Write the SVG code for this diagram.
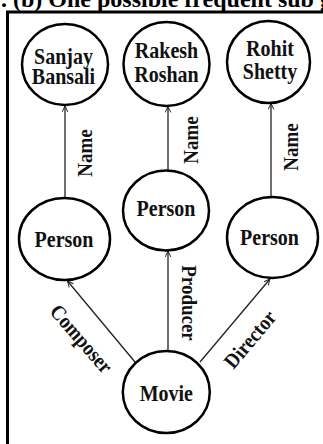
<svg xmlns="http://www.w3.org/2000/svg" width="323" height="444" viewBox="0 0 323 444">
  <style>
    .node { fill: #fff; stroke: #000; stroke-width: 2.5; }
    .lbl { font-family: "Liberation Serif", "Times New Roman", serif; font-weight: bold; font-size: 20px; fill: #111; text-anchor: middle; }
    .elbl { font-family: "Liberation Serif", "Times New Roman", serif; font-weight: bold; font-size: 19px; fill: #111; text-anchor: middle; }
    .edge { stroke: #222; stroke-width: 1.3; fill: none; marker-end: url(#arrow); }
    .title { font-family: "Liberation Serif", "Times New Roman", serif; font-weight: bold; font-size: 24px; fill: #000; }
  </style>
  <defs>
    <marker id="arrow" viewBox="0 0 10 10" refX="9.5" refY="5" markerWidth="7" markerHeight="7" markerUnits="userSpaceOnUse" orient="auto">
      <path d="M1,1 L9.5,5 L1,9" fill="none" stroke="#222" stroke-width="1.4"/>
    </marker>
  </defs>
  <rect width="323" height="444" fill="#fff"/>

  <!-- caption, clipped by the top edge -->
  <text class="title" x="1" y="6.5">. (b) One possible frequent sub graph</text>

  <!-- frame -->
  <path d="M7.5,446 V12 H325" fill="none" stroke="#000" stroke-width="3"/>

  <!-- connectors -->
  <g id="edges">
    <line class="edge" x1="65" y1="198" x2="65" y2="106"/>
    <line class="edge" x1="168" y1="170.5" x2="168" y2="106.5"/>
    <line class="edge" x1="271" y1="197" x2="271" y2="103.5"/>
    <line class="edge" x1="168" y1="351" x2="168" y2="251"/>
    <line class="edge" x1="135" y1="362" x2="67.5" y2="281"/>
    <line class="edge" x1="200" y1="362" x2="270" y2="279"/>
    <text class="elbl" transform="translate(91.5,153) rotate(-90) scale(1,1.12)">Name</text>
    <text class="elbl" transform="translate(197.5,140) rotate(-90) scale(1,1.12)">Name</text>
    <text class="elbl" transform="translate(297.5,147) rotate(-90) scale(1,1.12)">Name</text>
    <text class="elbl" transform="translate(181.5,303) rotate(90) scale(1,1.12)">Producer</text>
    <text class="elbl" transform="translate(76,343.5) rotate(49) scale(1,1.12)">Composer</text>
    <text class="elbl" transform="translate(255.5,344) rotate(-50) scale(1,1.12)">Director</text>
  </g>

  <g id="sanjay">
    <ellipse class="node" cx="65" cy="64.5" rx="43" ry="40.5"/>
    <text class="lbl" transform="translate(63.5,63.5) scale(1,1.15)">Sanjay</text>
    <text class="lbl" transform="translate(63.5,84) scale(1,1.15)">Bansali</text>
  </g>
  <g id="rakesh">
    <ellipse class="node" cx="166.5" cy="64" rx="43" ry="42"/>
    <text class="lbl" transform="translate(166.5,57.5) scale(1,1.15)">Rakesh</text>
    <text class="lbl" transform="translate(166.5,82) scale(1,1.15)">Roshan</text>
  </g>
  <g id="rohit">
    <ellipse class="node" cx="268.5" cy="62" rx="41.5" ry="41"/>
    <text class="lbl" transform="translate(270,55.5) scale(1,1.15)">Rohit</text>
    <text class="lbl" transform="translate(270,78.5) scale(1,1.15)">Shetty</text>
  </g>
  <g id="person-composer">
    <ellipse class="node" cx="64.5" cy="239" rx="45.5" ry="41"/>
    <text class="lbl" transform="translate(64,247) scale(1,1.15)">Person</text>
  </g>
  <g id="person-producer">
    <ellipse class="node" cx="166" cy="210.5" rx="43" ry="40"/>
    <text class="lbl" transform="translate(166,215.5) scale(1,1.15)">Person</text>
  </g>
  <g id="person-director">
    <ellipse class="node" cx="272.5" cy="237.5" rx="45.5" ry="40.5"/>
    <text class="lbl" transform="translate(269.5,244.5) scale(1,1.15)">Person</text>
  </g>
  <g id="movie">
    <ellipse class="node" cx="166.3" cy="392" rx="43.5" ry="41"/>
    <text class="lbl" transform="translate(166.3,401) scale(1,1.15)">Movie</text>
  </g>
</svg>
